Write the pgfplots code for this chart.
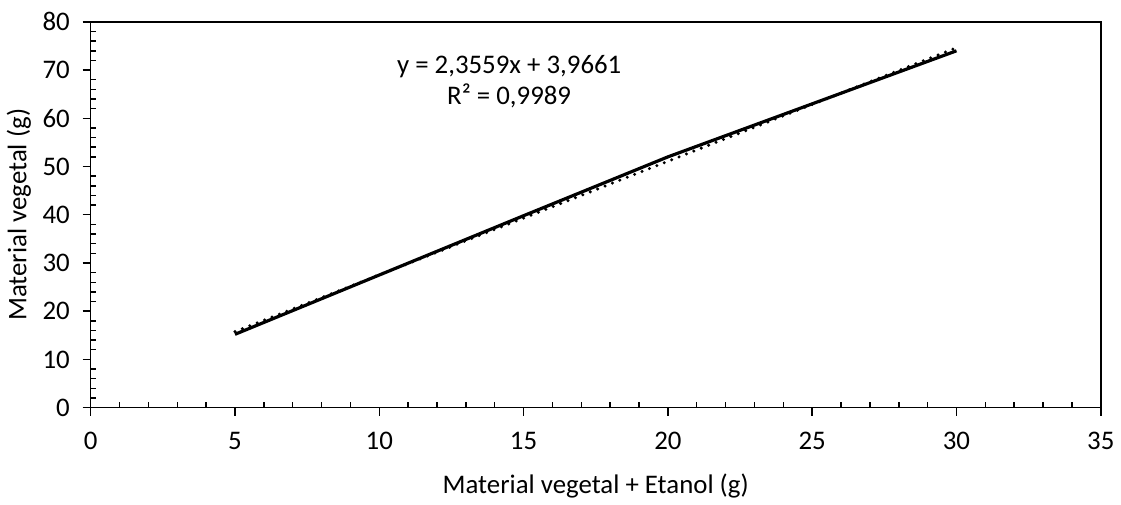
\documentclass[border=0pt]{standalone}
\usepackage{fontspec}
\setmainfont{Carlito}
\usepackage{pgfplots}
\pgfplotsset{compat=1.18}

\begin{document}
\begin{tikzpicture}[font=\fontsize{13.5}{16}\selectfont]
\begin{axis}[
  scale only axis,
  width=508pt, height=194pt,
  xmin=0, xmax=35, ymin=0, ymax=80,
  xtick={0,5,...,35}, ytick={0,10,...,80},
  minor x tick num=4, minor y tick num=4,
  xtick pos=bottom, ytick pos=left,
  tick align=outside,
  major tick length=4pt, minor tick length=2.6pt,
  minor x tick style={yshift=2.6pt},
  minor y tick style={xshift=2.6pt},
  tick style={black, line width=0.75pt},
  axis line style={line width=0.75pt},
  /pgf/number format/assume math mode=true,
  xticklabel style={yshift=-5pt},
  yticklabel style={xshift=-3pt},
  xlabel={Material vegetal + Etanol (g)},
  ylabel={Material vegetal (g)},
  xlabel style={yshift=-5pt},
  ylabel style={yshift=-1pt},
  clip=false,
]
\addplot[black, line width=1.6pt, line join=round] coordinates {
  (5,15.2) (10,27.5) (15,39.8) (20,52.0) (25,63.0) (30,74.0)
};
\addplot[black, line width=1.7pt, line cap=round, dash pattern=on 0pt off 4pt] coordinates {
  (5,15.75) (30,74.64)
};
\node[align=center, font=\fontsize{13.5}{16}\selectfont] at (axis cs:14.5,67.6) {y = 2,3559x + 3,9661\\R² = 0,9989};
\path (rel axis cs:0,1) -- ++(0,11pt);
\end{axis}
\end{tikzpicture}
\end{document}
